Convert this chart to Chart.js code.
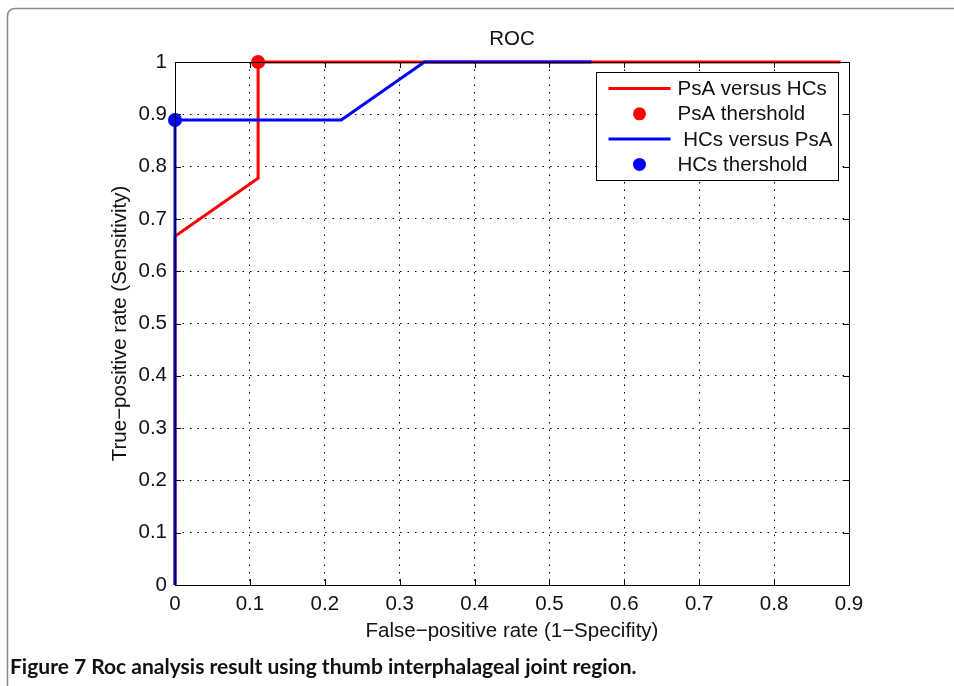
<!DOCTYPE html>
<html>
<head>
<meta charset="utf-8">
<script src="https://cdn.jsdelivr.net/npm/chart.js@4/dist/chart.umd.min.js"></script>
<style>
    body { margin: 0; background: #ffffff; }
    #roc-chart { display: block; }
</style>
</head>
<body>
<canvas id="roc-chart" width="954" height="686"></canvas>
<script>
// *** DATA ***
var psaFpr = [0, 0, 0.111, 0.111, 0.889];
var psaTpr = [0, 0.667, 0.778, 1, 1];
var hcsFpr = [0, 0, 0.222, 0.333, 0.556];
var hcsTpr = [0, 0.889, 0.889, 1, 1];
var psaThreshold = [0.111, 1];
var hcsThreshold = [0, 0.889];
var xTickLabels = ["0", "0.1", "0.2", "0.3", "0.4", "0.5", "0.6", "0.7", "0.8", "0.9"];
var yTickLabels = ["0", "0.1", "0.2", "0.3", "0.4", "0.5", "0.6", "0.7", "0.8", "0.9", "1"];
var seriesLabels = ["PsA versus HCs", "PsA thershold", " HCs versus PsA", "HCs thershold"];
var chartTitle = "ROC";
var captionText = "Figure 7 Roc analysis result using thumb interphalageal joint region.";

var axisFont = "'Liberation Sans', Arial, sans-serif";
var fontSize = 20.5;

function toPoints(xs, ys) {
    var pts = [];
    for (var i = 0; i < xs.length; i++) {
        pts.push({x: xs[i], y: ys[i]});
    }
    return pts;
}

function tickLabel(list, value) {
    var idx = Math.round(value * 10);
    return list[idx] !== undefined ? list[idx] : "";
}

// frame, title, plot box, inward ticks, legend and caption
var figurePlugin = {
    id: 'figure',
    beforeDraw: function(chart) {
        var ctx = chart.ctx;
        ctx.save();
        ctx.fillStyle = '#ffffff';
        ctx.fillRect(0, 0, chart.width, chart.height);
        // rounded frame around the figure
        ctx.strokeStyle = '#8a8a8a';
        ctx.lineWidth = 1.5;
        var x0 = 7.5, y0 = 8.5, r = 8;
        ctx.beginPath();
        ctx.moveTo(x0, chart.height + 5);
        ctx.lineTo(x0, y0 + r);
        ctx.quadraticCurveTo(x0, y0, x0 + r, y0);
        ctx.lineTo(chart.width + 5, y0);
        ctx.stroke();
        // title centred over the axes
        var area = chart.chartArea;
        ctx.fillStyle = '#111111';
        ctx.font = fontSize + "px " + axisFont;
        ctx.textAlign = 'center';
        ctx.textBaseline = 'middle';
        ctx.fillText(chartTitle, (area.left + area.right) / 2, area.top - 23);
        ctx.restore();
    },
    afterDatasetsDraw: function(chart) {
        var ctx = chart.ctx;
        var area = chart.chartArea;
        var xs = chart.scales.x, ys = chart.scales.y;
        ctx.save();
        ctx.strokeStyle = '#000000';
        ctx.lineWidth = 1;
        ctx.strokeRect(Math.round(area.left) + 0.5, Math.round(area.top) + 0.5,
            Math.round(area.right - area.left), Math.round(area.bottom - area.top));
        ctx.beginPath();
        xs.ticks.forEach(function(t) {
            var px = Math.round(xs.getPixelForValue(t.value)) + 0.5;
            ctx.moveTo(px, area.bottom); ctx.lineTo(px, area.bottom - 6);
            ctx.moveTo(px, area.top); ctx.lineTo(px, area.top + 6);
        });
        ys.ticks.forEach(function(t) {
            var py = Math.round(ys.getPixelForValue(t.value)) + 0.5;
            ctx.moveTo(area.left, py); ctx.lineTo(area.left + 6, py);
            ctx.moveTo(area.right, py); ctx.lineTo(area.right - 6, py);
        });
        ctx.stroke();
        ctx.restore();
    },
    afterDraw: function(chart) {
        var ctx = chart.ctx;
        var area = chart.chartArea;
        ctx.save();
        // legend box
        var bw = 242, bh = 108;
        var bx = Math.round(area.right - 11 - bw) + 0.5;
        var by = Math.round(area.top + 10) + 0.5;
        ctx.fillStyle = '#ffffff';
        ctx.fillRect(bx, by, bw, bh);
        ctx.strokeStyle = '#000000';
        ctx.lineWidth = 1;
        ctx.strokeRect(bx, by, bw, bh);
        ctx.font = fontSize + "px " + axisFont;
        ctx.textBaseline = 'middle';
        ctx.textAlign = 'left';
        chart.data.datasets.forEach(function(ds, i) {
            var ry = by + 16 + i * 25.3;
            if (ds.showLine) {
                ctx.strokeStyle = ds.borderColor;
                ctx.lineWidth = 3;
                ctx.beginPath();
                ctx.moveTo(bx + 12, ry);
                ctx.lineTo(bx + 74, ry);
                ctx.stroke();
            } else {
                ctx.fillStyle = ds.backgroundColor;
                ctx.beginPath();
                ctx.arc(bx + 43, ry, 6.5, 0, Math.PI * 2);
                ctx.fill();
            }
            ctx.fillStyle = '#111111';
            ctx.fillText(ds.label, bx + 81, ry + 1);
        });
        // caption
        ctx.fillStyle = '#111111';
        ctx.font = "bold 21px Lato, 'Open Sans', sans-serif";
        ctx.textBaseline = 'alphabetic';
        ctx.fillText(captionText, 10, 674);
        ctx.restore();
    }
};

var rocChart = new Chart(document.getElementById('roc-chart'), {
    type: 'scatter',
    data: {
        datasets: [{
            label: seriesLabels[0],
            data: toPoints(psaFpr, psaTpr),
            showLine: true,
            borderColor: '#ff0000',
            backgroundColor: '#ff0000',
            borderWidth: 3,
            pointRadius: 0,
            clip: false,
            order: 4
        }, {
            label: seriesLabels[1],
            data: [{x: psaThreshold[0], y: psaThreshold[1]}],
            showLine: false,
            borderColor: '#ff0000',
            backgroundColor: '#ff0000',
            pointRadius: 7,
            pointBorderWidth: 0,
            clip: false,
            order: 3
        }, {
            label: seriesLabels[2],
            data: toPoints(hcsFpr, hcsTpr),
            showLine: true,
            borderColor: '#0000ff',
            backgroundColor: '#0000ff',
            borderWidth: 3,
            pointRadius: 0,
            clip: false,
            order: 2
        }, {
            label: seriesLabels[3],
            data: [{x: hcsThreshold[0], y: hcsThreshold[1]}],
            showLine: false,
            borderColor: '#0000ff',
            backgroundColor: '#0000ff',
            pointRadius: 7,
            pointBorderWidth: 0,
            clip: false,
            order: 1
        }]
    },
    options: {
        responsive: false,
        animation: false,
        events: [],
        layout: {
            padding: {left: 105, right: 105, top: 62, bottom: 41}
        },
        elements: {
            line: {tension: 0}
        },
        plugins: {
            legend: {display: false},
            tooltip: {enabled: false},
            title: {display: false}
        },
        scales: {
            x: {
                type: 'linear',
                min: 0,
                max: 0.9,
                afterFit: function(scale) { scale.height = 60; },
                ticks: {
                    stepSize: 0.1,
                    padding: 7,
                    color: '#111111',
                    maxRotation: 0,
                    font: {family: axisFont, size: fontSize},
                    callback: function(value) { return tickLabel(xTickLabels, value); }
                },
                grid: {color: '#000000', lineWidth: 1, drawTicks: false},
                border: {display: false, dash: [1.5, 6]},
                title: {
                    display: true,
                    text: 'False\u2212positive rate (1\u2212Specifity)',
                    color: '#111111',
                    font: {family: axisFont, size: fontSize},
                    padding: {top: 0, bottom: 1}
                }
            },
            y: {
                type: 'linear',
                min: 0,
                max: 1,
                afterFit: function(scale) { scale.width = 70; },
                ticks: {
                    stepSize: 0.1,
                    padding: 8,
                    color: '#111111',
                    font: {family: axisFont, size: fontSize},
                    callback: function(value) { return tickLabel(yTickLabels, value); }
                },
                grid: {color: '#000000', lineWidth: 1, drawTicks: false},
                border: {display: false, dash: [1.5, 6]},
                title: {
                    display: true,
                    text: 'True\u2212positive rate (Sensitivity)',
                    color: '#111111',
                    font: {family: axisFont, size: fontSize},
                    padding: {top: 3, bottom: 0}
                }
            }
        }
    },
    plugins: [figurePlugin]
});
</script>
</body>
</html>
